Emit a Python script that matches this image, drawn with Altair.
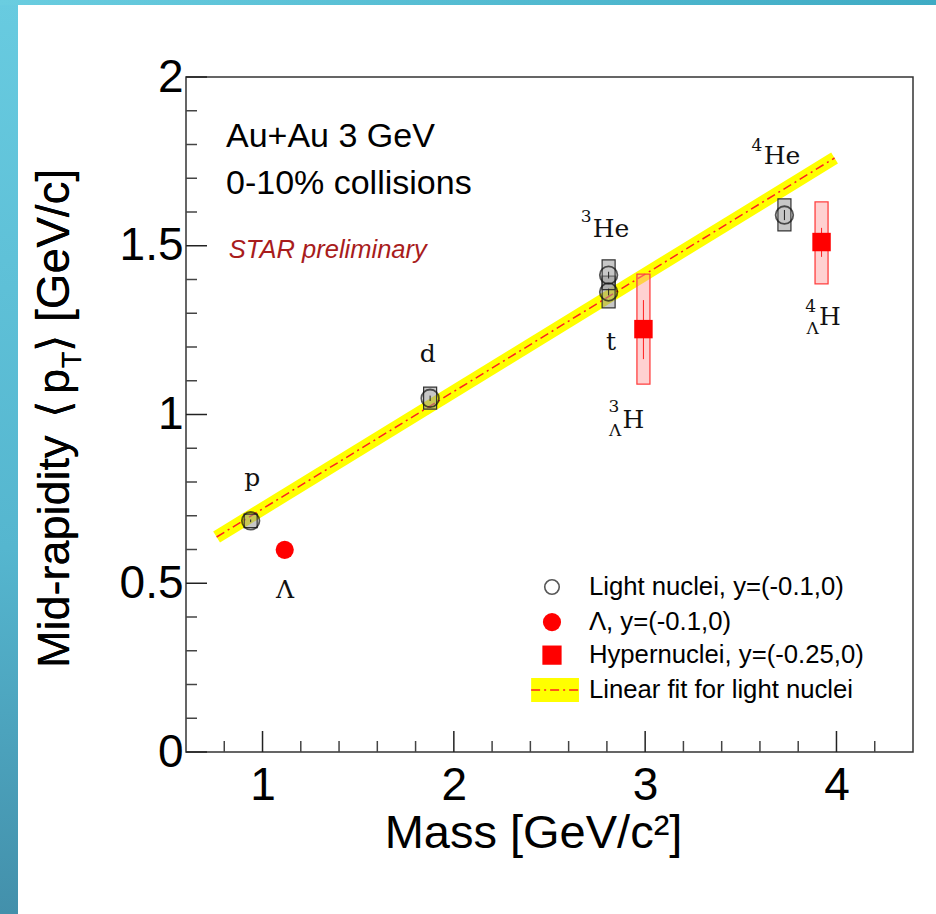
import altair as alt
import pandas as pd

# ---------------- data ----------------
# light nuclei (open circles + grey systematic boxes)
ln_names = ["p", "d", "t", "3He", "4He"]
ln_mass = [0.938, 1.876, 2.809, 2.809, 3.728]
ln_pt = [0.685, 1.048, 1.363, 1.413, 1.591]
ln_sys_lo = [0.665, 1.016, 1.316, 1.370, 1.544]
ln_sys_hi = [0.705, 1.081, 1.410, 1.458, 1.639]
ln_stat_lo = [0.681, 1.040, 1.353, 1.403, 1.576]
ln_stat_hi = [0.689, 1.056, 1.373, 1.423, 1.606]

# Lambda
lam_mass = [1.116]
lam_pt = [0.599]

# hypernuclei (red squares + pink systematic boxes)
hy_names = ["3LH", "4LH"]
hy_mass = [2.991, 3.922]
hy_pt = [1.253, 1.511]
hy_sys_lo = [1.090, 1.387]
hy_sys_hi = [1.416, 1.630]
hy_stat_lo = [1.164, 1.467]
hy_stat_hi = [1.339, 1.553]

# linear fit for light nuclei (end points)
fit_mass = [0.76, 3.99]
fit_pt = [0.637, 1.760]

# axis ticks
x_major = [1, 2, 3, 4]
x_minor = [0.8, 1.2, 1.4, 1.6, 1.8, 2.2, 2.4, 2.6, 2.8, 3.2, 3.4, 3.6, 3.8, 4.2]
y_major = [0, 0.5, 1, 1.5, 2]
y_minor = [0.1, 0.2, 0.3, 0.4, 0.6, 0.7, 0.8, 0.9, 1.1, 1.2, 1.3, 1.4,
           1.6, 1.7, 1.8, 1.9]

# particle labels (main text)
lab_text = ["p", "Λ", "d", "He", "t", "H", "He", "H"]
lab_x = [0.946, 1.118, 1.863, 2.822, 2.822, 2.938, 3.715, 3.966]
lab_y = [0.813, 0.481, 1.178, 1.549, 1.214, 0.985, 1.766, 1.288]
# small super/sub scripts
sub_text = ["3", "3", "Λ", "4", "4", "Λ"]
sub_x = [2.691, 2.837, 2.843, 3.584, 3.865, 3.875]
sub_y = [1.585, 1.021, 0.950, 1.795, 1.320, 1.252]

# legend entries
leg_text = ["Light nuclei, y=(-0.1,0)", "Λ, y=(-0.1,0)",
            "Hypernuclei, y=(-0.25,0)", "Linear fit for light nuclei"]
leg_y = [0.489, 0.385, 0.287, 0.184]

# ---------------- layout constants ----------------
W, H = 727, 675
LEFT, TOP = 186, 77

xs = alt.Scale(domain=[0.6, 4.4], nice=False, zero=False)
ys = alt.Scale(domain=[0, 2], nice=False, zero=False)
FONT = "Liberation Sans"
SERIF = "DejaVu Serif"

XAXIS = alt.Axis(values=x_major, format="d", ticks=False, domain=False,
                 grid=False, labelFont=FONT, labelFontSize=46,
                 labelColor="black", labelPadding=11,
                 title="Mass [GeV/c²]", titleFont=FONT,
                 titleFontSize=47, titleFontWeight="normal",
                 titleColor="black", titlePadding=2,
                 titleX=533 - LEFT, titleAlign="center")
YAXIS = alt.Axis(values=y_major, format=".1~f", ticks=False,
                 domain=False, grid=False, labelFont=FONT,
                 labelFontSize=46, labelColor="black", labelPadding=3,
                 title="")


def X(f):
    return alt.X(f, type="quantitative", scale=xs, axis=XAXIS)


def Y(f):
    return alt.Y(f, type="quantitative", scale=ys, axis=YAXIS)


ln = pd.DataFrame({"name": ln_names, "mass": ln_mass, "pt": ln_pt,
                   "lo": ln_sys_lo, "hi": ln_sys_hi,
                   "slo": ln_stat_lo, "shi": ln_stat_hi})
lam = pd.DataFrame({"mass": lam_mass, "pt": lam_pt})
hy = pd.DataFrame({"name": hy_names, "mass": hy_mass, "pt": hy_pt,
                   "lo": hy_sys_lo, "hi": hy_sys_hi,
                   "slo": hy_stat_lo, "shi": hy_stat_hi})
fit = pd.DataFrame({"mass": fit_mass, "pt": fit_pt})
labs = pd.DataFrame({"x": lab_x, "y": lab_y, "t": lab_text})
subs = pd.DataFrame({"x": sub_x, "y": sub_y, "t": sub_text})

# ---------------- background decoration (slide strips) ----------------
left_grad = alt.LinearGradient(
    gradient="linear", x1=0, x2=0, y1=0, y2=1,
    stops=[alt.GradientStop(color="#68cbe0", offset=0),
           alt.GradientStop(color="#55b6cf", offset=0.6),
           alt.GradientStop(color="#4390ab", offset=1)])
top_grad = alt.LinearGradient(
    gradient="linear", x1=0, x2=1, y1=0, y2=0,
    stops=[alt.GradientStop(color="#6acde0", offset=0),
           alt.GradientStop(color="#3fabc4", offset=1)])
strip_left = alt.Chart(fit).mark_rect(color=left_grad).encode(
    x=alt.value(-LEFT), x2=alt.value(-LEFT + 18),
    y=alt.value(-TOP), y2=alt.value(914 - TOP))
strip_top = alt.Chart(fit).mark_rect(color=top_grad).encode(
    x=alt.value(-LEFT), x2=alt.value(936 - LEFT),
    y=alt.value(-TOP), y2=alt.value(-TOP + 5))

# inward ticks
xmaj = alt.Chart(pd.DataFrame({"v": x_major})).mark_rule(
    color="#222", strokeWidth=1.5).encode(
    x=X("v"), y=alt.value(H), y2=alt.value(H - 21))
xmin = alt.Chart(pd.DataFrame({"v": x_minor})).mark_rule(
    color="#444", strokeWidth=1.5).encode(
    x=X("v"), y=alt.value(H), y2=alt.value(H - 11))
ymaj = alt.Chart(pd.DataFrame({"v": y_major})).mark_rule(
    color="#222", strokeWidth=1.5).encode(
    y=Y("v"), x=alt.value(0), x2=alt.value(21))
ymin = alt.Chart(pd.DataFrame({"v": y_minor})).mark_rule(
    color="#444", strokeWidth=1.5).encode(
    y=Y("v"), x=alt.value(0), x2=alt.value(11))

# y title composed of pieces (rotated, reading upwards)
def ytitle(txt, size, xpix, ypix):
    return alt.Chart(fit).mark_text(
        text=txt, angle=270, align="left", baseline="alphabetic",
        font=FONT, fontSize=size, color="black").encode(
        x=alt.value(xpix - LEFT), y=alt.value(ypix - TOP))


yt1 = ytitle("Mid-rapidity", 45, 69, 668)
yt2 = ytitle("⟨", 45, 69, 418)
yt3 = ytitle("p", 45, 69, 394)
yt4 = ytitle("T", 27, 81, 368)
yt5 = ytitle("⟩", 45, 69, 352)
yt6 = ytitle("[GeV/c]", 46, 69, 322)

# ---------------- fit ----------------
band = alt.Chart(fit).mark_line(color="#ffff00", strokeWidth=13,
                                strokeCap="butt").encode(
    x=X("mass"), y=Y("pt"))
fitline = alt.Chart(fit).mark_line(color="#ff2020", strokeWidth=1.5,
                                   strokeDash=[9, 4, 2, 4]).encode(
    x=X("mass"), y=Y("pt"))

# ---------------- light nuclei ----------------
ln_box = alt.Chart(ln).transform_calculate(
    x1="datum.mass - 0.034", x2="datum.mass + 0.034").mark_rect(
    fill="#999999", fillOpacity=0.55, stroke="#333", strokeWidth=1.2).encode(
    x=X("x1:Q"), x2="x2:Q", y=Y("lo"), y2="hi")
ln_stat = alt.Chart(ln).mark_rule(color="#222", strokeWidth=1).encode(
    x=X("mass"), y=Y("slo"), y2="shi")
ln_pts = alt.Chart(ln).mark_point(shape="circle", filled=False, size=310,
                                  stroke="#111", strokeWidth=1.8).encode(
    x=X("mass"), y=Y("pt"))

# ---------------- Lambda ----------------
lam_pts = alt.Chart(lam).mark_point(shape="circle", filled=True, size=330,
                                    color="#ff0000", opacity=1).encode(
    x=X("mass"), y=Y("pt"))

# ---------------- hypernuclei ----------------
hy_box = alt.Chart(hy).transform_calculate(
    x1="datum.mass - 0.034", x2="datum.mass + 0.034").mark_rect(
    fill="#ff9999", fillOpacity=0.45, stroke="#ff4040", strokeWidth=1.3).encode(
    x=X("x1:Q"), x2="x2:Q", y=Y("lo"), y2="hi")
hy_stat = alt.Chart(hy).mark_rule(color="#ff2020", strokeWidth=1).encode(
    x=X("mass"), y=Y("slo"), y2="shi")
hy_pts = alt.Chart(hy).mark_point(shape="square", filled=True, size=340,
                                  color="#ff0000", opacity=1).encode(
    x=X("mass"), y=Y("pt"))

# ---------------- particle labels ----------------
lab_main = alt.Chart(labs).mark_text(font=SERIF, fontSize=25, color="#111",
                                     baseline="middle").encode(
    x=X("x"), y=Y("y"), text="t")
lab_small = alt.Chart(subs).mark_text(font=SERIF, fontSize=17, color="#111",
                                      baseline="middle").encode(
    x=X("x"), y=Y("y"), text="t")

# ---------------- annotations ----------------
ann = pd.DataFrame({"x": [0.809, 0.809], "y": [1.822, 1.683],
                    "t": ["Au+Au 3 GeV", "0-10% collisions"]})
ann_txt = alt.Chart(ann).mark_text(font=FONT, fontSize=34, color="black",
                                   align="left", baseline="middle").encode(
    x=X("x"), y=Y("y"), text="t")
star = pd.DataFrame({"x": [0.824], "y": [1.487], "t": ["STAR preliminary"]})
star_txt = alt.Chart(star).mark_text(font=FONT, fontSize=25.5, fontStyle="italic",
                                     color="#a81c1c", align="left",
                                     baseline="middle").encode(
    x=X("x"), y=Y("y"), text="t")

# ---------------- legend ----------------
LX, TX = 2.513, 2.706
leg_df = pd.DataFrame({"y": leg_y, "t": leg_text, "x": [TX] * 4})
leg_txt = alt.Chart(leg_df).mark_text(font=FONT, fontSize=25.7, color="black",
                                      align="left", baseline="middle").encode(
    x=X("x"), y=Y("y"), text="t")
leg_sym = pd.DataFrame({"x": [LX] * 3, "y": leg_y[:3]})
leg_c1 = alt.Chart(leg_sym.iloc[[0]]).mark_point(
    shape="circle", filled=False, size=210, stroke="#111",
    strokeWidth=1.6).encode(x=X("x"), y=Y("y"))
leg_c2 = alt.Chart(leg_sym.iloc[[1]]).mark_point(
    shape="circle", filled=True, size=330, color="#ff0000",
    opacity=1).encode(x=X("x"), y=Y("y"))
leg_c3 = alt.Chart(leg_sym.iloc[[2]]).mark_point(
    shape="square", filled=True, size=370, color="#ff0000",
    opacity=1).encode(x=X("x"), y=Y("y"))
leg_box_df = pd.DataFrame({"x1": [2.404], "x2": [2.654],
                           "y1": [0.148], "y2": [0.219]})
leg_box = alt.Chart(leg_box_df).mark_rect(color="#ffff00").encode(
    x=X("x1"), x2="x2", y=Y("y1"), y2="y2")
leg_line_df = pd.DataFrame({"x": [2.404, 2.654], "y": [leg_y[3], leg_y[3]]})
leg_line = alt.Chart(leg_line_df).mark_line(
    color="#ff2020", strokeWidth=1.5, strokeDash=[9, 4, 2, 4]).encode(
    x=X("x"), y=Y("y"))

chart = alt.layer(
    strip_left, strip_top,
    band, fitline,
    ln_box, ln_stat, ln_pts,
    lam_pts,
    hy_box, hy_stat, hy_pts,
    lab_main, lab_small,
    ann_txt, star_txt,
    leg_box, leg_line, leg_c1, leg_c2, leg_c3, leg_txt,
    xmaj, xmin, ymaj, ymin,
    yt1, yt2, yt3, yt4, yt5, yt6,
).properties(
    width=W, height=H,
    padding={"left": LEFT, "top": TOP, "right": 936 - LEFT - W,
             "bottom": 914 - TOP - H},
    autosize=alt.AutoSizeParams(type="none"),
    background="white",
).configure_view(stroke="#333", strokeWidth=1.5)

chart.save("out.html", embed_options={"renderer": "svg", "actions": False})
